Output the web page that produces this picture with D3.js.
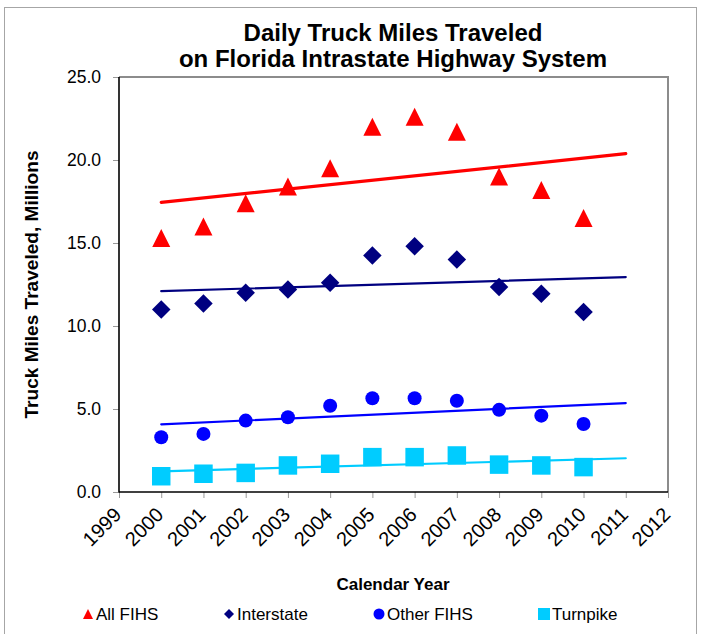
<!DOCTYPE html>
<html>
<head>
<meta charset="utf-8">
<script src="https://cdn.jsdelivr.net/npm/d3@7"></script>
<style>
  body { margin: 0; background: #fff; }
  text { font-family: Arial, "Liberation Sans", sans-serif; }
</style>
</head>
<body>
<svg width="702" height="634"></svg>
<script>
const years = [2000, 2001, 2002, 2003, 2004, 2005, 2006, 2007, 2008, 2009, 2010];
const allFihs = [15.3, 16.0, 17.4, 18.4, 19.5, 22.0, 22.6, 21.7, 19.0, 18.2, 16.5];
const interstate = [11.0, 11.35, 12.0, 12.2, 12.6, 14.25, 14.8, 14.0, 12.35, 11.95, 10.85];
const otherFihs = [3.3, 3.5, 4.3, 4.5, 5.2, 5.65, 5.65, 5.5, 4.95, 4.6, 4.1];
const turnpike = [0.95, 1.1, 1.15, 1.6, 1.7, 2.1, 2.1, 2.2, 1.65, 1.6, 1.5];
const xTicks = [1999, 2000, 2001, 2002, 2003, 2004, 2005, 2006, 2007, 2008, 2009, 2010, 2011, 2012];
const yTicks = [0, 5, 10, 15, 20, 25];

const series = [
  { name: 'All FIHS', values: allFihs, color: '#ff0000', shape: 'triangle', lw: 3.2 },
  { name: 'Interstate', values: interstate, color: '#000080', shape: 'diamond', lw: 2.2 },
  { name: 'Other FIHS', values: otherFihs, color: '#0000ff', shape: 'circle', lw: 2.2 },
  { name: 'Turnpike', values: turnpike, color: '#00ccff', shape: 'square', lw: 2.2 }
];

const svg = d3.select('svg');

const x = d3.scaleLinear().domain([1999, 2012]).range([119, 668]);
const y = d3.scaleLinear().domain([0, 25]).range([492, 77]);

// outer chart border
svg.append('rect')
  .attr('x', 4.5).attr('y', 7.5)
  .attr('width', 692).attr('height', 640)
  .attr('fill', 'none').attr('stroke', '#a6a6a6');

// plot area border (top + right)
svg.append('path')
  .attr('d', `M${x(1999)},${y(25)}H${x(2012)}V${y(0)}`)
  .attr('fill', 'none').attr('stroke', '#8c8c8c').attr('stroke-width', 2);

// title
const title = svg.append('text')
  .attr('text-anchor', 'middle')
  .attr('font-weight', 'bold')
  .attr('font-size', 24);
title.append('tspan').attr('x', 393).attr('y', 41).text('Daily Truck Miles Traveled');
title.append('tspan').attr('x', 393).attr('y', 66.5).text('on Florida Intrastate Highway System');

// y axis
const yAxisG = svg.append('g')
  .attr('transform', `translate(${x(1999)},0)`)
  .call(d3.axisLeft(y).tickValues(yTicks).tickFormat(d3.format('.1f')).tickSize(6).tickPadding(12));
yAxisG.select('.domain').remove();
yAxisG.selectAll('.tick line').attr('stroke', '#999');
yAxisG.selectAll('.tick text')
  .attr('font-size', 17.5).attr('fill', '#000')
  .style('font-family', 'Arial, "Liberation Sans", sans-serif');

// x axis
const xAxisG = svg.append('g')
  .attr('transform', `translate(0,${y(0)})`)
  .call(d3.axisBottom(x).tickValues(xTicks).tickFormat(d3.format('d')).tickSize(6));
xAxisG.select('.domain').remove();
xAxisG.selectAll('.tick line').attr('stroke', '#999');
xAxisG.selectAll('.tick text')
  .attr('font-size', 20).attr('fill', '#000')
  .style('font-family', 'Arial, "Liberation Sans", sans-serif')
  .attr('text-anchor', 'end')
  .attr('dy', null)
  .attr('y', 0)
  .attr('transform', 'translate(3,24) rotate(-45)');

// axis lines
svg.append('line')
  .attr('x1', x(1999)).attr('x2', x(1999))
  .attr('y1', y(25)).attr('y2', y(0) + 0.5)
  .attr('stroke', '#000').attr('stroke-width', 1.6);
svg.append('line')
  .attr('x1', x(1999)).attr('x2', x(2012))
  .attr('y1', y(0)).attr('y2', y(0))
  .attr('stroke', '#000').attr('stroke-width', 1.6);

// axis titles
svg.append('text')
  .attr('transform', `translate(38,${(y(0) + y(25)) / 2}) rotate(-90)`)
  .attr('text-anchor', 'middle')
  .attr('font-weight', 'bold')
  .attr('font-size', 18)
  .attr('textLength', 268)
  .attr('lengthAdjust', 'spacingAndGlyphs')
  .text('Truck Miles Traveled, Millions');

svg.append('text')
  .attr('x', 393).attr('y', 590)
  .attr('text-anchor', 'middle')
  .attr('font-weight', 'bold')
  .attr('font-size', 17)
  .text('Calendar Year');

// marker shapes
const markerPath = (shape, s) => {
  const h = s / 2;
  if (shape === 'triangle') return `M0,${-h}L${h},${h}L${-h},${h}Z`;
  if (shape === 'diamond') return `M0,${-h}L${h},0L0,${h}L${-h},0Z`;
  if (shape === 'square') return `M${-h},${-h}H${h}V${h}H${-h}Z`;
  return `M${h},0A${h},${h} 0 1,1 ${-h},0A${h},${h} 0 1,1 ${h},0Z`;
};
const markerSize = { triangle: 18, diamond: 18.5, circle: 14, square: 18.5 };

// linear trendlines, extended one period forward as in the spreadsheet
series.forEach(s => {
  const mx = d3.mean(years);
  const my = d3.mean(s.values);
  const sxy = d3.sum(years, (yr, i) => (yr - mx) * (s.values[i] - my));
  const sxx = d3.sum(years, yr => (yr - mx) * (yr - mx));
  const slope = sxy / sxx;
  const fit = yr => my + slope * (yr - mx);
  svg.append('line')
    .attr('x1', x(2000)).attr('y1', y(fit(2000)))
    .attr('x2', x(2011)).attr('y2', y(fit(2011)))
    .attr('stroke', s.color)
    .attr('stroke-width', s.lw)
    .attr('stroke-linecap', 'round');
});

// markers
series.forEach(s => {
  svg.append('g').selectAll('path')
    .data(s.values)
    .enter().append('path')
      .attr('transform', (d, i) => `translate(${x(years[i])},${y(d)})`)
      .attr('d', markerPath(s.shape, markerSize[s.shape]))
      .attr('fill', s.color);
});

// legend
const legendX = [88, 229, 379, 544];
const legendSize = { triangle: 10, diamond: 10, circle: 11, square: 12 };
const legend = svg.append('g');
series.forEach((s, i) => {
  const g = legend.append('g').attr('transform', `translate(${legendX[i]},614)`);
  g.append('path')
    .attr('d', markerPath(s.shape, legendSize[s.shape]))
    .attr('fill', s.color);
  g.append('text')
    .attr('x', 8).attr('y', 6)
    .attr('font-size', 17)
    .text(s.name);
});
</script>
</body>
</html>
